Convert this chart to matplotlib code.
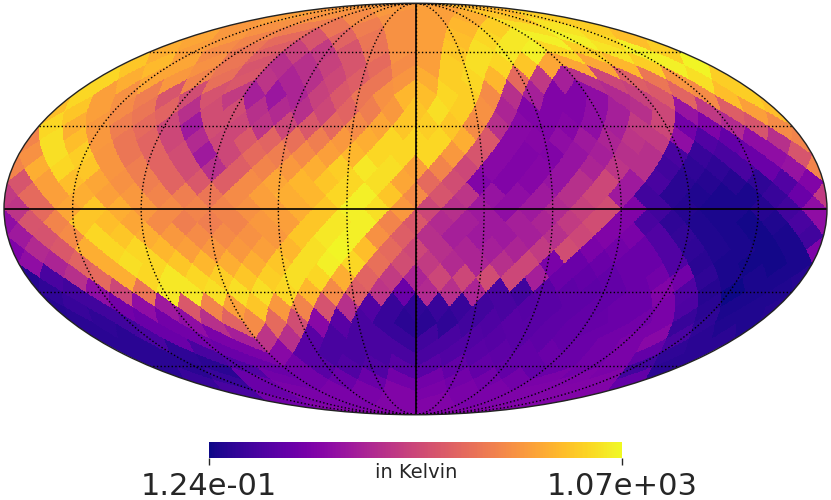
# HEALPix style sky map (nside 8) in Mollweide projection
import numpy as np
import matplotlib
matplotlib.use('Agg')
from matplotlib import pyplot as plt
from matplotlib.colors import LogNorm

NSIDE = 8
T_MIN = 0.124
T_MAX = 1070.0
TICK_LABELS = ['1.24e-01', '1.07e+03']
CBAR_LABEL = 'in Kelvin'

# Values per ring, north to south, left to right on the map.
ring_01 = [76,76,78,84]
ring_02 = [78,74,72,74,78,82,88,90]
ring_03 = [76,74,68,66,68,74,78,84,90,94,95,90]
ring_04 = [80,76,70,62,55,60,66,74,78,86,92,96,98,98,92,86]
ring_05 = [82,78,72,66,58,48,46,55,65,74,78,88,94,96,98,92,90,95,98,90]
ring_06 = [88,85,80,74,66,55,42,42,48,55,62,72,78,90,94,92,88,80,80,80,84,90,98,99]
ring_07 = [92,82,80,76,70,64,56,44,38,42,50,58,66,75,82,90,92,84,62,45,36,42,50,58,66,75,94,90]
ring_08 = [92,78,74,68,55,52,54,46,36,33,38,48,56,66,74,84,86,92,90,72,42,36,26,26,30,40,48,56,60,72,86,90]
ring_09 = [86,88,78,72,66,60,42,52,52,42,40,42,50,60,68,76,88,94,90,74,38,26,26,26,30,36,42,50,32,45,58,78]
ring_10 = [92,82,76,68,62,50,34,52,50,44,50,56,62,72,80,88,90,88,72,42,28,26,27,30,36,46,50,22,25,40,55,72]
ring_11 = [70,94,86,76,66,60,50,40,50,56,60,64,68,76,82,92,92,92,82,56,28,27,30,34,38,44,46,30,14,18,30,42]
ring_12 = [74,94,90,75,66,60,52,34,50,62,68,72,78,84,92,92,92,76,55,28,26,26,32,36,42,42,12,8,12,20,30,55]
ring_13 = [70,82,92,88,75,68,60,52,42,58,70,76,82,90,96,94,78,70,50,28,26,27,32,38,44,42,10,6,6,12,20,32]
ring_14 = [55,78,86,80,74,68,60,56,58,72,80,84,88,92,94,80,62,52,26,26,27,32,42,50,34,12,5,4,4,6,14,26]
ring_15 = [46,62,78,82,78,76,70,68,66,72,78,82,84,92,98,88,72,55,44,32,30,34,42,50,34,10,5,3,2,2,8,20]
ring_16 = [44,62,80,88,82,76,72,70,70,74,78,82,88,98,94,76,50,42,34,30,34,40,48,52,26,10,4,2,2,4,10,30]
ring_17 = [30,55,70,88,86,80,72,68,68,70,76,78,88,96,98,70,56,40,36,34,36,38,46,52,26,12,6,3,2,1,3,12]
ring_18 = [34,54,72,92,88,82,76,72,72,74,76,88,96,98,74,58,42,36,34,34,36,42,50,26,24,14,7,3,2,1,2,10]
ring_19 = [25,40,56,82,92,92,84,78,76,76,78,84,94,99,86,62,50,42,38,36,38,46,52,24,22,20,14,6,3,2,1,2]
ring_20 = [30,38,60,82,94,92,88,84,82,82,88,94,98,92,64,52,46,40,38,42,50,24,20,20,20,20,14,5,2,1,1,2]
ring_21 = [4,12,42,62,82,92,96,92,90,88,90,94,92,82,60,46,38,50,50,52,50,36,20,18,18,20,22,22,6,2,2,2]
ring_22 = [6,10,30,50,66,96,96,94,94,94,92,84,72,58,44,20,40,42,38,12,10,16,17,17,18,20,26,14,4,0,2,3]
ring_23 = [4,8,10,22,30,34,56,70,78,88,76,70,54,42,14,8,6,8,8,10,12,15,16,17,18,20,20,24,13,5,2,3]
ring_24 = [5,6,10,20,22,30,42,60,72,62,52,28,16,12,8,5,5,6,10,13,16,16,17,18,19,20,22,24,8,6,3,3]
ring_25 = [5,5,12,20,22,24,36,44,42,16,12,12,12,8,10,12,14,15,16,17,18,20,22,24,28,12,5,5]
ring_26 = [5,5,6,12,20,24,28,16,12,12,12,12,12,14,16,17,18,20,20,22,24,18,6,5]
ring_27 = [5,5,5,14,20,22,16,14,14,16,16,18,18,18,18,20,22,24,10,5]
ring_28 = [8,8,20,22,22,20,20,22,22,22,22,22,24,25,26,18]
ring_29 = [12,20,24,24,24,26,24,24,24,25,26,26]
ring_30 = [22,24,24,26,26,24,25,26]
ring_31 = [26,26,26,26]

rings = [ring_01, ring_02, ring_03, ring_04, ring_05, ring_06, ring_07, ring_08,
         ring_09, ring_10, ring_11, ring_12, ring_13, ring_14, ring_15, ring_16,
         ring_17, ring_18, ring_19, ring_20, ring_21, ring_22, ring_23, ring_24,
         ring_25, ring_26, ring_27, ring_28, ring_29, ring_30, ring_31]


def ang2ring(lon, lat):
  # ring number and index inside the ring for each sky position
  z = np.sin(lat)
  tt = ((lon + np.pi) / (np.pi / 2)) % 4
  ring = np.zeros(z.shape, dtype=int)
  ip = np.zeros(z.shape, dtype=int)

  eq = np.abs(z) <= 2 / 3
  t1 = NSIDE * (0.5 + tt[eq])
  t2 = NSIDE * z[eq] * 0.75
  jp = np.floor(t1 - t2).astype(int)
  jm = np.floor(t1 + t2).astype(int)
  ir = NSIDE + 1 + jp - jm
  kshift = 1 - (ir % 2)
  ring[eq] = ir + NSIDE - 1
  ip[eq] = ((jp + jm - NSIDE + kshift + 1) // 2) % (4 * NSIDE)

  cap = ~eq
  tp = tt[cap] - np.floor(tt[cap])
  tmp = NSIDE * np.sqrt(3 * (1 - np.abs(z[cap])))
  jp = np.floor(tp * tmp).astype(int)
  jm = np.floor((1 - tp) * tmp).astype(int)
  ir = jp + jm + 1
  ring[cap] = np.where(z[cap] > 0, ir, 4 * NSIDE - ir)
  ip[cap] = np.floor(tt[cap] * ir).astype(int) % (4 * ir)
  return ring, ip


# Kelvin per pixel
table = np.full((4 * NSIDE - 1, 4 * NSIDE), np.nan)
for i, ring_vals in enumerate(rings):
  table[i, :len(ring_vals)] = T_MIN * (T_MAX / T_MIN) ** (np.array(ring_vals) / 100)

# Same pixels on a fine grid, so the diamond shapes come out
lon_edges = np.linspace(-np.pi, np.pi, 1301)
lat_edges = np.linspace(-np.pi / 2, np.pi / 2, 651)
lon_mid = (lon_edges[:-1] + lon_edges[1:]) / 2
lat_mid = (lat_edges[:-1] + lat_edges[1:]) / 2
lon_grid, lat_grid = np.meshgrid(lon_mid, lat_mid)
ring_no, ring_ip = ang2ring(lon_grid, lat_grid)
sky = table[ring_no - 1, ring_ip]

fig = plt.figure(figsize=(8.31, 5.0), dpi=100)
ax = fig.add_axes([4 / 831, 85 / 500, 823 / 831, 412 / 500], projection='mollweide')
norm = LogNorm(vmin=T_MIN, vmax=T_MAX)
mesh = ax.pcolormesh(lon_edges, lat_edges, sky, cmap='plasma', norm=norm, linewidth=0, rasterized=True)

ax.set_longitude_grid_ends(90)
ax.set_xticks(np.radians(np.arange(-150, 151, 30)))
ax.set_yticks(np.radians([-60, -30, 30, 60]))
ax.set_xticklabels([])
ax.set_yticklabels([])
ax.grid(True, color='black', linestyle=':', linewidth=1.0)
ax.plot([0, 0], [-np.pi / 2, np.pi / 2], color='black', linewidth=1.2)
ax.plot([-np.pi, np.pi], [0, 0], color='black', linewidth=1.2)
for spine in ax.spines.values():
  spine.set_linewidth(1.0)
  spine.set_edgecolor('#222222')

cax = fig.add_axes([209 / 831, 42 / 500, 413 / 831, 16 / 500])
cb = fig.colorbar(mesh, cax=cax, orientation='horizontal', ticks=[T_MIN, T_MAX])
cb.minorticks_off()
cb.outline.set_visible(False)
cax.set_xticks([T_MIN, T_MAX])
cax.set_xticklabels(TICK_LABELS, fontsize=22, color='#262626')
cax.tick_params(axis='x', length=5, width=1, color='#262626', pad=5)
cax.minorticks_off()
fig.text(416 / 831, 27 / 500, CBAR_LABEL, ha='center', va='center', fontsize=14, color='#262626')

fig.savefig('out.png', dpi=100)
